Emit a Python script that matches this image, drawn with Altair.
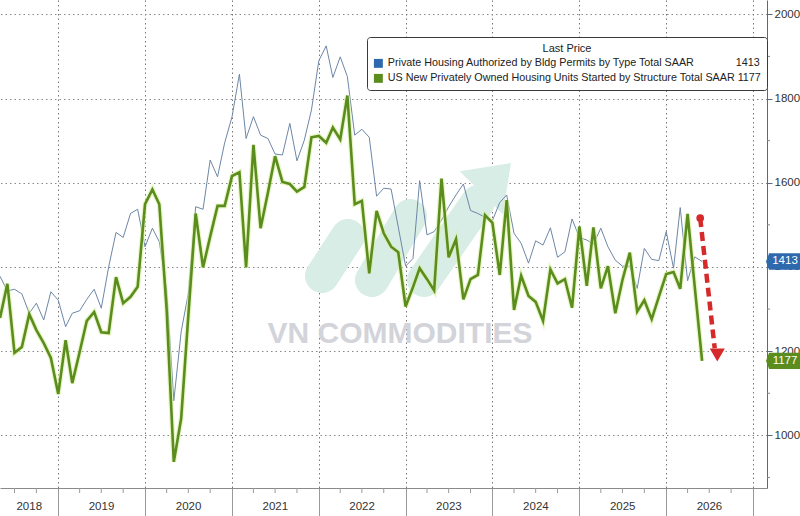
import altair as alt
import pandas as pd

FONT = "Liberation Sans"
S1 = "Private Housing Authorized by Bldg Permits by Type Total SAAR"
S2 = "US New Privately Owned Housing Units Started by Structure Total SAAR"
BLUE_LINE = "#6d87a6"
BLUE = "#2e69ad"
GREEN = "#5b8c1e"
RED = "#d62a2a"

# monthly readings (thousand units, SAAR), plotted at the start of the following month
permits = [1378, 1343, 1347, 1336, 1290, 1314, 1274, 1341,
           1321, 1258, 1290, 1296, 1323, 1347, 1302, 1400, 1482, 1470,
           1527, 1537, 1448, 1492, 1460, 1345, 1082, 1246, 1337, 1543,
           1537, 1654, 1614, 1695, 1757, 1858, 1705, 1757, 1713, 1705,
           1668, 1666, 1741, 1652, 1701, 1773, 1890, 1925, 1850, 1899,
           1852, 1713, 1727, 1708, 1568, 1587, 1585, 1495, 1402, 1420,
           1605, 1476, 1484, 1511, 1543, 1571, 1597, 1534, 1527, 1518,
           1510, 1553, 1571, 1480, 1456, 1409, 1462, 1452, 1493, 1423,
           1436, 1514, 1470, 1464, 1454, 1492, 1448, 1416, 1402, 1402,
           1349, 1444, 1418, 1415, 1484, 1397, 1541, 1367, 1424, 1413]
starts = [1279, 1360, 1196, 1210, 1288, 1250, 1219, 1184,
          1098, 1226, 1124, 1198, 1272, 1293, 1245, 1243, 1376, 1314,
          1329, 1353, 1549, 1584, 1549, 1298, 937, 1040, 1284, 1527,
          1399, 1472, 1545, 1545, 1616, 1625, 1399, 1690, 1492, 1577,
          1663, 1602, 1597, 1579, 1590, 1708, 1711, 1695, 1731, 1703,
          1807, 1549, 1557, 1385, 1533, 1480, 1448, 1435, 1306, 1352,
          1397, 1371, 1344, 1610, 1423, 1466, 1323, 1371, 1381, 1523,
          1505, 1381, 1559, 1298, 1379, 1331, 1317, 1272, 1394, 1361,
          1371, 1303, 1496, 1355, 1494, 1349, 1402, 1290, 1369, 1434,
          1294, 1321, 1276, 1329, 1383, 1388, 1348, 1526, 1353, 1177]
dates = pd.date_range("2018-05-01", periods=len(starts), freq="MS").strftime("%Y-%m-%d")
last_permit = 1413
last_start = 1177

year_labels = ["2018", "2019", "2020", "2021", "2022", "2023", "2024", "2025", "2026"]
year_label_dates = ["2018-09-01", "2019-07-02", "2020-07-02", "2021-07-02", "2022-07-02",
                    "2023-07-02", "2024-07-02", "2025-07-02", "2026-07-02"]
y_ticks = [1000, 1200, 1400, 1600, 1800, 2000]
y_minor = [900, 1100, 1300, 1500, 1700, 1900]
quarter_dates = [d.strftime("%Y-%m-%d") for d in pd.date_range("2018-07-01", "2027-01-01", freq="QS")
                 if d.month != 1]

df = pd.DataFrame({"date": dates, "permits": permits, "starts": starts})

xscale = alt.Scale(domain=[alt.DateTime(year=2018, month=5, date=1, utc=True),
                           alt.DateTime(year=2027, month=3, date=1, utc=True)])
xaxis = alt.Axis(values=[alt.DateTime(year=y, month=1, date=1, utc=True) for y in range(2019, 2028)],
                 labels=False, tickSize=28, tickColor="#9a9a9a", domainColor="#8a8a8a",
                 grid=True, gridDash=[1.5, 3], gridColor="#777777", title=None)
yscale = alt.Scale(domain=[875, 2034], nice=False, zero=False)
yaxis = alt.Axis(orient="right", values=y_ticks, format="d", tickSize=5, tickColor="#5a6a7a",
                 domainColor="#5a6a7a", labelFont=FONT, labelFontSize=11.5, labelColor="#333333",
                 labelPadding=2, grid=True, gridDash=[1.5, 3], gridColor="#888888", title=None)


def X(field="date:T"):
    return alt.X(field, scale=xscale, axis=xaxis)


def Y(field):
    return alt.Y(field, scale=yscale, axis=yaxis)


one = pd.DataFrame({"a": [0]})

# watermark (decoration, pixel placed)
def wm_bar(x1, y1, x2, y2):
    return alt.Chart(one).mark_rule(strokeWidth=34, strokeCap="round", color="#d7ede6").encode(
        x=alt.value(x1), y=alt.value(y1), x2=alt.value(x2), y2=alt.value(y2))


watermark_head = alt.Chart(one).mark_point(
    shape="M1,-1 L-0.9,-0.7 L0.7,0.9 Z", filled=True, size=2900, color="#d7ede6", opacity=1).encode(
    x=alt.value(484), y=alt.value(190))
watermark_text = alt.Chart(pd.DataFrame({"t": ["VN COMMODITIES"]})).mark_text(
    font=FONT, fontSize=30, fontWeight="bold", color="#d3d3da", align="center", baseline="middle").encode(
    x=alt.value(400), y=alt.value(334), text="t:N")

permit_line = alt.Chart(df).mark_line(color=BLUE_LINE, strokeWidth=1).encode(x=X(), y=Y("permits:Q"))
start_halo = alt.Chart(df).mark_line(color="#d9ee9e", strokeWidth=5, opacity=0.6).encode(
    x=X(), y=Y("starts:Q"))
start_line = alt.Chart(df).mark_line(color=GREEN, strokeWidth=2.6).encode(x=X(), y=Y("starts:Q"))

label_expr = ("datum.label == '" + S1 + "' ? datum.label + '" + "\u00a0" * 14 + str(last_permit)
              + "' : datum.label + ' " + str(last_start) + "'")
legend_df = pd.DataFrame({"series": [S1, S2], "date": [dates[0], dates[0]], "v": [0, 0]})
legend_layer = alt.Chart(legend_df).mark_square(filled=True, clip=True, opacity=1).encode(
    x=X(), y=Y("v:Q"),
    color=alt.Color("series:N", scale=alt.Scale(domain=[S1, S2], range=[BLUE, GREEN]),
                    legend=alt.Legend(title="Last Price", orient="none", legendX=367, legendY=37,
                                      direction="vertical", fillColor="white", strokeColor="#3a3a3a",
                                      cornerRadius=3, padding=6, titleFont=FONT, titleFontSize=11,
                                      titleFontWeight="normal", titleColor="#222222", titleAnchor="middle",
                                      titleAlign="center", titlePadding=4, labelFont=FONT,
                                      labelFontSize=10.75, labelColor="#222222", labelLimit=700,
                                      labelOffset=4, symbolType="square", symbolSize=80,
                                      symbolStrokeWidth=0, rowPadding=3, labelExpr=label_expr)))

# axis decorations
qticks = alt.Chart(pd.DataFrame({"date": quarter_dates})).mark_rule(color="#9a9a9a").encode(
    x=X(), y=alt.value(488), y2=alt.value(493))
yminor = alt.Chart(pd.DataFrame({"v": y_minor})).mark_rule(color="#7a8a9a").encode(
    y=Y("v:Q"), x=alt.value(767), x2=alt.value(770))
year_text = alt.Chart(pd.DataFrame({"date": year_label_dates, "lab": year_labels})).mark_text(
    font=FONT, fontSize=11.5, color="#333333", align="center", baseline="middle").encode(
    x=X(), y=alt.value(507), text="lab:N")

# red arrow annotation
arrow = pd.DataFrame({"x": ["2026-05-24"], "y": [1516], "x2": ["2026-07-24"], "y2": [1207]})
arrow_line = alt.Chart(arrow).mark_rule(color=RED, strokeWidth=4.5, strokeDash=[9, 5]).encode(
    x=X("x:T"), y=Y("y:Q"), x2="x2:T", y2="y2:Q")
arrow_dot = alt.Chart(arrow).mark_circle(color=RED, size=60, opacity=1).encode(x=X("x:T"), y=Y("y:Q"))
arrow_head = alt.Chart(pd.DataFrame({"x": ["2026-08-04"], "y": [1191]})).mark_point(
    shape="triangle-down", filled=True, size=230, color=RED, opacity=1).encode(x=X("x:T"), y=Y("y:Q"))

# last-value tags on the right axis
tags = pd.DataFrame({"v": [last_permit, last_start], "lab": [str(last_permit), str(last_start)],
                     "c": [BLUE, GREEN]})
tag_shape = alt.Chart(tags).mark_point(
    shape="M-1,0 L-0.82,-0.48 L1,-0.48 L1,0.48 L-0.82,0.48 Z", filled=True, size=1156, opacity=1,
    strokeWidth=0).encode(
    x=alt.value(783), y=Y("v:Q"), fill=alt.Color("c:N", scale=None))
tag_text = alt.Chart(tags).mark_text(font=FONT, fontSize=11.5, color="white", align="center",
                                     baseline="middle").encode(
    x=alt.value(785), y=Y("v:Q"), text="lab:N")

chart = alt.layer(
    wm_bar(322, 276, 348, 236), wm_bar(372, 280, 410, 216), wm_bar(424, 280, 478, 202),
    watermark_head, watermark_text, permit_line, start_halo, start_line,
    legend_layer, qticks, yminor, year_text, arrow_line, arrow_dot, arrow_head, tag_shape, tag_text
).properties(
    width=767, height=488,
    autosize=alt.AutoSizeParams(type="none"),
    padding={"left": 0, "top": 0, "right": 33, "bottom": 28},
    background="white",
).configure_view(stroke=None)

chart.save("out.html", embed_options={"renderer": "svg", "actions": False})
